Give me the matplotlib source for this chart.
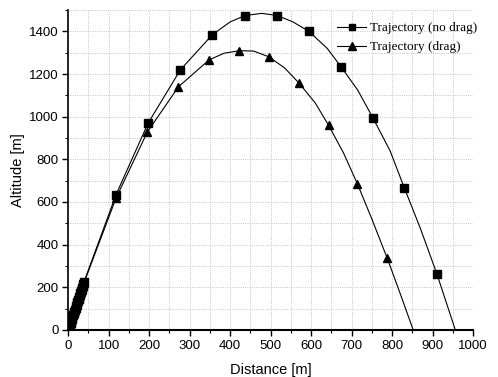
import matplotlib.pyplot as plt
from matplotlib.ticker import MultipleLocator

# marker positions, trajectory without drag (squares)
x_nodrag = [0, 1.5, 3, 4.5, 6, 7.5, 9, 10.5, 12, 13.5, 15, 16.5, 18, 19.5, 21, 22.5, 24, 25.5, 27, 28.5,
            30, 31.5, 33, 34.5, 36, 37.5, 39, 118, 197, 277, 356, 437, 516, 595, 674, 753, 830, 911]
y_nodrag = [0, 9, 17, 26, 34, 43, 52, 60, 69, 78, 86, 95, 103, 112, 121, 129, 138, 147, 155, 164,
            172, 181, 190, 198, 207, 216, 225, 634, 969, 1220, 1385, 1475, 1475, 1400, 1234, 993, 667, 260]

# marker positions, trajectory with drag (triangles)
x_drag = [0, 1.5, 3, 4.5, 6, 7.5, 9, 10.5, 12, 13.5, 15, 16.5, 18, 19.5, 21, 22.5, 24, 25.5, 27, 28.5,
          30, 31.5, 33, 34.5, 36, 37.5, 39, 118, 195, 272, 348, 423, 496, 570, 643, 714, 788]
y_drag = [0, 9, 17, 26, 34, 43, 51, 60, 68, 77, 85, 94, 102, 111, 119, 128, 136, 145, 153, 162,
          170, 179, 187, 196, 204, 213, 221, 618, 927, 1140, 1267, 1310, 1281, 1158, 960, 686, 336]

# curves
xc_nodrag = [0, 39, 118, 197, 277, 356, 400, 437, 478, 516, 555, 595, 640, 674, 715, 753, 795, 830, 870, 911, 956]
yc_nodrag = [0, 225, 634, 969, 1220, 1385, 1445, 1475, 1485, 1475, 1445, 1400, 1320, 1234, 1125, 993, 840, 667, 475, 260, 0]
xc_drag = [0, 39, 118, 195, 272, 348, 385, 423, 458, 496, 535, 570, 610, 643, 680, 714, 750, 788, 820, 852]
yc_drag = [0, 221, 618, 927, 1140, 1267, 1298, 1310, 1308, 1281, 1228, 1158, 1065, 960, 830, 686, 520, 336, 170, 0]

plt.rcParams['font.family'] = ['Liberation Sans', 'DejaVu Sans']

fig = plt.figure(figsize=(4.98, 3.77), dpi=100)
ax = fig.add_axes([0.137, 0.125, 0.813, 0.848])

ax.plot(xc_nodrag, yc_nodrag, 'k-', lw=0.8)
ax.plot(xc_drag, yc_drag, 'k-', lw=0.8)
ax.plot(x_nodrag, y_nodrag, 'ks', ms=5.2, lw=0)
ax.plot(x_drag, y_drag, 'k^', ms=5.8, lw=0)

# legend handles
ax.plot([], [], 'k-', lw=0.8, marker='s', ms=5, label='Trajectory (no drag)')
ax.plot([], [], 'k-', lw=0.8, marker='^', ms=5.5, label='Trajectory (drag)')

ax.set_xlim(0, 1000)
ax.set_ylim(0, 1500)
ax.xaxis.set_major_locator(MultipleLocator(100))
ax.xaxis.set_minor_locator(MultipleLocator(50))
ax.yaxis.set_major_locator(MultipleLocator(200))
ax.yaxis.set_minor_locator(MultipleLocator(100))
ax.tick_params(which='both', direction='out', labelsize=9.5)
ax.tick_params(which='major', length=4, width=1, pad=3)
ax.tick_params(which='minor', length=2.5, width=0.8)

ax.grid(True, which='both', linestyle=':', color='0.7', lw=0.6)
ax.spines['top'].set_visible(False)
ax.spines['right'].set_visible(False)
ax.spines['left'].set_linewidth(1.2)
ax.spines['bottom'].set_linewidth(1.5)

ax.set_xlabel('Distance [m]', fontsize=10.5, labelpad=8)
ax.set_ylabel('Altitude [m]', fontsize=10.5, labelpad=3)

ax.legend(loc='upper right', bbox_to_anchor=(1.04, 1.0), frameon=False,
          prop={'family': 'Liberation Serif', 'size': 9.5},
          handlelength=2.2, handletextpad=0.3, labelspacing=0.5)

plt.savefig('out.png', dpi=100)
